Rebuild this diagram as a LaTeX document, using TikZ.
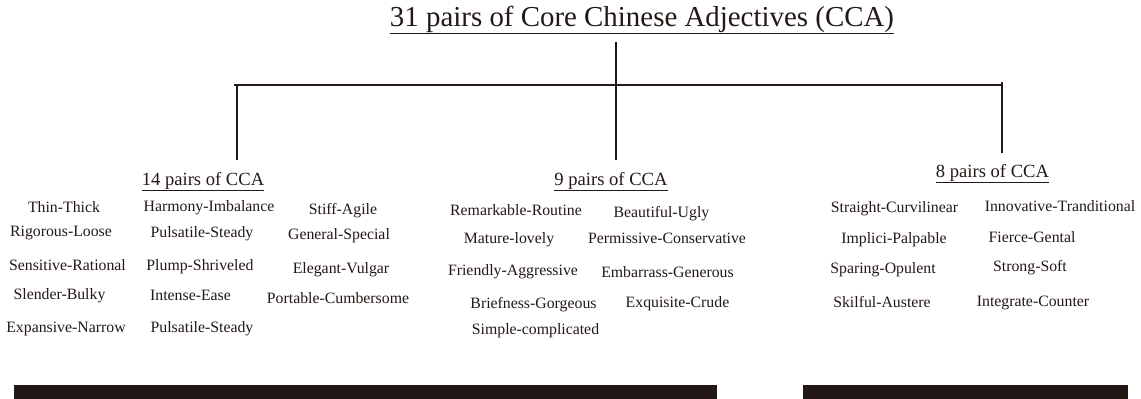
\documentclass[tikz,border=0pt]{standalone}
\usepackage{fontspec}
\setmainfont{Liberation Serif}
\definecolor{ink}{HTML}{231815}
\tikzset{
  item/.style={anchor=base, inner sep=0pt, text=ink, font=\fontsize{15.8}{18}\selectfont},
  grp/.style={anchor=base, inner sep=0pt, text=ink, font=\fontsize{18.6}{22}\selectfont},
  ttl/.style={anchor=base, inner sep=0pt, text=ink, font=\fontsize{28.9}{32}\selectfont},
  bar/.style={draw=ink, line width=2.7pt},
  blk/.style={fill=ink, draw=none}
}
\begin{document}
\begin{tikzpicture}[x=1pt,y=-1pt]
\useasboundingbox (0,0) rectangle (1141,399);
% title
\node[ttl] (t) at (642,26) {\underline{31 pairs of Core Chinese Adjectives (CCA)}};
% group labels
\node[grp] (g1) at (203,185) {\underline{14 pairs of CCA}};
\node[grp] (g2) at (611,185) {\underline{9 pairs of CCA}};
\node[grp] (g3) at (992.5,177) {\underline{8 pairs of CCA}};
% tree coordinates
\coordinate (top) at (616,42);
\coordinate (hl) at (234,85);
\coordinate (hr) at (1002,85);
\coordinate (l1) at (237,85);
\coordinate (r1) at (1002,82);
\coordinate (e1) at (237,160);
\coordinate (e2) at (616,160);
\coordinate (e3) at (1002,153);
\draw[bar] (top) -- (e2);
\draw[bar] (hl) -- (hr);
\draw[bar] (l1) -- (e1);
\draw[bar] (r1) -- (e3);
% group 1 items
\node[item] (a1) at (64,212) {Thin-Thick};
\node[item] (a2) at (209,211) {Harmony-Imbalance};
\node[item] (a3) at (343,214) {Stiff-Agile};
\node[item] (a4) at (61,236) {Rigorous-Loose};
\node[item] (a5) at (202,237) {Pulsatile-Steady};
\node[item] (a6) at (339,239) {General-Special};
\node[item] (a7) at (67.5,270) {Sensitive-Rational};
\node[item] (a8) at (200,270) {Plump-Shriveled};
\node[item] (a9) at (341,273) {Elegant-Vulgar};
\node[item] (a10) at (59.5,299) {Slender-Bulky};
\node[item] (a11) at (190.5,300) {Intense-Ease};
\node[item] (a12) at (338,303) {Portable-Cumbersome};
\node[item] (a13) at (66,332) {Expansive-Narrow};
\node[item] (a14) at (202,332) {Pulsatile-Steady};
% group 2 items
\node[item] (b1) at (516,215) {Remarkable-Routine};
\node[item] (b2) at (661.5,217) {Beautiful-Ugly};
\node[item] (b3) at (509,243) {Mature-lovely};
\node[item] (b4) at (667,243) {Permissive-Conservative};
\node[item] (b5) at (513,275) {Friendly-Aggressive};
\node[item] (b6) at (667.5,277) {Embarrass-Generous};
\node[item] (b7) at (533.5,308) {Briefness-Gorgeous};
\node[item] (b8) at (677.5,307) {Exquisite-Crude};
\node[item] (b9) at (535.5,334) {Simple-complicated};
% group 3 items
\node[item] (c1) at (894.5,212) {Straight-Curvilinear};
\node[item] (c2) at (1060,211) {Innovative-Tranditional};
\node[item] (c3) at (894,243) {Implici-Palpable};
\node[item] (c4) at (1032,242) {Fierce-Gental};
\node[item] (c5) at (883,273) {Sparing-Opulent};
\node[item] (c6) at (1030,271) {Strong-Soft};
\node[item] (c7) at (882,307) {Skilful-Austere};
\node[item] (c8) at (1033,306) {Integrate-Counter};
% bottom blocks
\fill[blk] (13.5,385) rectangle (717,399);
\fill[blk] (803,385) rectangle (1128,399);
\end{tikzpicture}
\end{document}
